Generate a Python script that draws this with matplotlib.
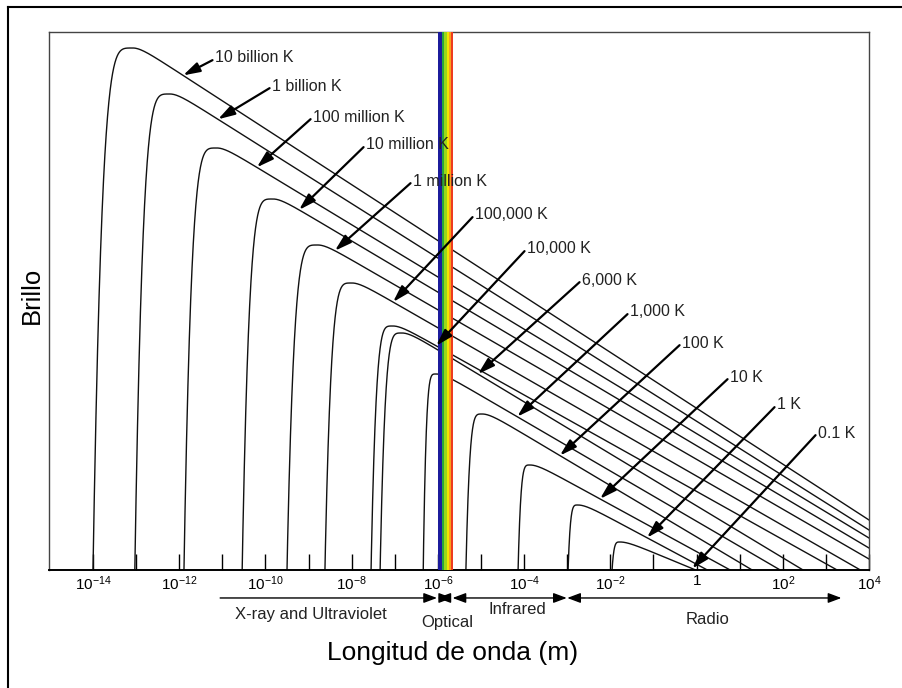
import numpy as np
import matplotlib
matplotlib.use("Agg")
import matplotlib.pyplot as plt
from matplotlib.lines import Line2D
from matplotlib.ticker import NullLocator
from matplotlib.transforms import blended_transform_factory

plt.rcParams['font.family'] = ['Liberation Sans', 'DejaVu Sans']
plt.rcParams['mathtext.fontset'] = 'custom'
plt.rcParams['mathtext.rm'] = 'Liberation Sans'
plt.rcParams['mathtext.it'] = 'Liberation Sans:italic'
plt.rcParams['mathtext.bf'] = 'Liberation Sans:bold'

# temperature curves (log10 of wavelength in m, log10 brightness)
labels = ["10 billion K", "1 billion K", "100 million K", "10 million K", "1 million K",
          "100,000 K", "10,000 K", "6,000 K", "1,000 K", "100 K", "10 K", "1 K", "0.1 K"]
peak_logwl = [-13.07, -12.21, -11.12, -9.82, -8.78, -7.99, -7.04, -6.83, -6.04, -4.97, -3.86, -2.75, -1.77]
peak_logbr = [52.2, 47.6, 42.2, 37.1, 32.5, 28.7, 24.4, 23.7, 19.6, 15.6, 10.5, 6.5, 2.8]
foot_logwl = [-14.00, -13.03, -11.89, -10.54, -9.50, -8.62, -7.55, -7.34, -6.34, -5.35, -4.14, -2.98, -1.96]
end_logwl = [4.0, 4.0, 4.0, 4.0, 4.0, 3.80, 3.26, 2.47, 1.94, 1.29, 0.78, 0.25, -0.02]
end_logbr = [5.0, 4.0, 3.2, 2.2, 1.1, 0, 0, 0, 0, 0, 0, 0, 0]
tip_logwl = [-11.91, -11.10, -10.20, -9.22, -8.39, -7.04, -6.04, -5.07, -4.16, -3.17, -2.24, -1.15, -0.10]

# spectrum regions under the axis
bands = ["X-ray and Ultraviolet", "Optical", "Infrared", "Radio"]
band_lo = [-11.05, -6.01, -5.66, -3.00]
band_hi = [-6.02, -5.67, -3.01, 3.36]

# visible stripe
stripe_edges = [-6.007, -5.914, -5.856, -5.798, -5.752, -5.705, -5.659]
stripe_colors = ['#1c1c9c', '#2aa83a', '#9ad81a', '#f2e600', '#f8a01b', '#ee3b1f']

tick_exps = list(range(-14, 5))
tick_labels = ['$10^{-14}$', '', '$10^{-12}$', '', '$10^{-10}$', '', '$10^{-8}$', '',
               '$10^{-6}$', '', '$10^{-4}$', '', '$10^{-2}$', '', '$1$', '', '$10^{2}$', '',
               '$10^{4}$']

# layout of the temperature labels (axes fraction)
label_pos = [(0.2024, 0.9517), (0.2720, 0.8996), (0.3220, 0.8420), (0.3866, 0.7900),
             (0.4439, 0.7230), (0.5195, 0.6599), (0.5829, 0.5967), (0.6500, 0.5390),
             (0.7085, 0.4796), (0.7720, 0.4219), (0.8305, 0.3587), (0.8878, 0.3067),
             (0.9378, 0.2546)]
band_label_x = [-8.94, -5.79, -4.16, 0.25]
band_label_y = [-0.0836, -0.0967, -0.0743, -0.0929]


def curve(px, py, fx, ex, ey, r=0.18, n=4.5):
    m = (py - ey) / (ex - px - r)
    xl = np.linspace(fx - 0.1, px, 300)
    t = (px - xl) / (px - fx)
    yl = py * (1 - t ** n)
    xr = np.linspace(px, 4.5, 900)[1:]
    d = xr - px
    yr = py - m * d + m * r * (1 - np.exp(-d / r))
    return np.concatenate([xl, xr]), np.concatenate([yl, yr])


fig = plt.figure(figsize=(9.02, 6.88), dpi=100)
ax = fig.add_axes([49 / 902, 1 - 570 / 688, 820 / 902, 538 / 688])
ax.set_xscale('log')
ax.set_yscale('log')

for i in range(len(labels)):
    x, y = curve(peak_logwl[i], peak_logbr[i], foot_logwl[i], end_logwl[i], end_logbr[i])
    ax.plot(10.0 ** x, 10.0 ** y, color='#111111', lw=1.0, zorder=2)
    yt = np.interp(tip_logwl[i], x, y)
    ax.text(label_pos[i][0], label_pos[i][1], labels[i], transform=ax.transAxes,
            ha='left', va='center', fontsize=11.5, color='#222222', zorder=6)
    ax.annotate('', xy=(10.0 ** tip_logwl[i], 10.0 ** yt),
                xytext=(label_pos[i][0] - 0.003, label_pos[i][1] - 0.004),
                textcoords='axes fraction', annotation_clip=False, zorder=5,
                arrowprops=dict(arrowstyle='-|>,head_length=1.0,head_width=0.3',
                                mutation_scale=10, lw=1.6, color='black',
                                shrinkA=0, shrinkB=0))

for lo, hi, c in zip(stripe_edges[:-1], stripe_edges[1:], stripe_colors):
    ax.axvspan(10.0 ** lo, 10.0 ** hi, color=c, lw=0, zorder=4)

ax.set_xlim(10.0 ** -15.02, 1e4)
ax.set_ylim(1, 10.0 ** 53.8)

ax.set_xticks([10.0 ** e for e in tick_exps])
ax.set_xticklabels(tick_labels)
ax.xaxis.set_minor_locator(NullLocator())
ax.set_yticks([])
ax.yaxis.set_minor_locator(NullLocator())
ax.tick_params(axis='x', direction='in', length=11.5, width=1.0, pad=3, labelsize=11)
for side in ['top', 'left', 'right']:
    ax.spines[side].set_color('#444444')
    ax.spines[side].set_linewidth(1.0)
ax.spines['bottom'].set_linewidth(1.4)

trans = blended_transform_factory(ax.transData, ax.transAxes)
yb = -0.052
for i, name in enumerate(bands):
    style = '-|>' if i == 0 else '<|-|>'
    ax.annotate('', xy=(10.0 ** band_hi[i], yb), xytext=(10.0 ** band_lo[i], yb),
                xycoords=trans, textcoords=trans, annotation_clip=False,
                arrowprops=dict(arrowstyle=style + ',head_length=0.8,head_width=0.3',
                                mutation_scale=10, lw=1.0, color='black',
                                shrinkA=0, shrinkB=0))
    ax.text(10.0 ** band_label_x[i], band_label_y[i], name, transform=trans,
            ha='center', va='center', fontsize=12, color='#222222', clip_on=False)

fig.text(453 / 902, 1 - 653 / 688, 'Longitud de onda (m)', ha='center', va='center', fontsize=19)
fig.text(32 / 902, 1 - 295 / 688, 'Brillo', rotation=90, ha='center', va='center', fontsize=18.5)

# outer frame
fig.add_artist(Line2D([8 / 902, 8 / 902], [0, 1 - 7 / 688], transform=fig.transFigure,
                      color='black', lw=1.5))
fig.add_artist(Line2D([8 / 902, 1], [1 - 7 / 688, 1 - 7 / 688], transform=fig.transFigure,
                      color='black', lw=1.5))

fig.savefig('out.png', dpi=100)
